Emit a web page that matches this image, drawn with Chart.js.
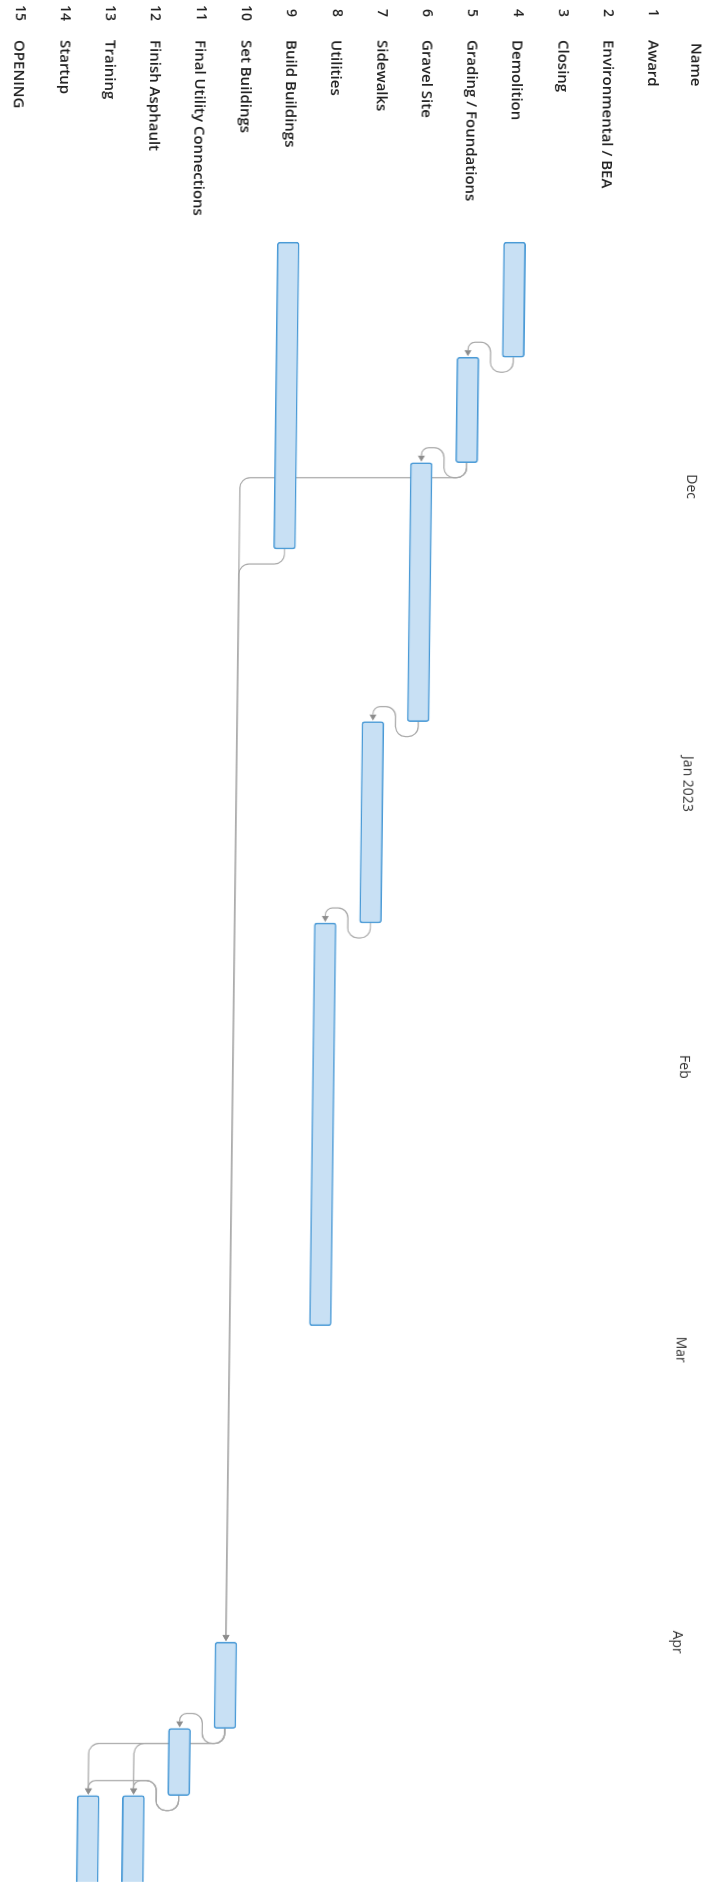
<!DOCTYPE html>
<html>
<head>
<meta charset="utf-8">
<title>Project schedule</title>
<script src="https://cdn.jsdelivr.net/npm/chart.js@4.4.1/dist/chart.umd.min.js"></script>
<style>
  html, body { margin: 0; padding: 0; background: #fff; overflow: hidden; width: 718px; height: 1882px; }
  /* the sheet was printed sideways: draw it landscape, then turn it (plus the small scanner skew) */
  #sheet { position: absolute; left: 0; top: 0; width: 1882px; height: 730px;
    transform-origin: 0 0; transform: translate(718px, 0) skewX(-0.7deg) rotate(90deg); }
</style>
</head>
<body>
<div id="sheet"><canvas id="gantt" width="1882" height="730"></canvas></div>
<script>
const taskNames = ["Award", "Environmental / BEA", "Closing", "Demolition", "Grading / Foundations",
  "Gravel Site", "Sidewalks", "Utilities", "Build Buildings", "Set Buildings",
  "Final Utility Connections", "Finish Asphault", "Training", "Startup", "OPENING"];
const taskStart = [null, null, null, "2022-11-21", "2022-12-03", "2022-12-14", "2023-01-10", "2023-01-31",
  "2022-11-21", "2023-04-16", "2023-04-25", "2023-05-02", "2023-05-02", null, null];
const taskEnd = [null, null, null, "2022-12-03", "2022-12-14", "2023-01-10", "2023-01-31", "2023-03-14",
  "2022-12-23", "2023-04-25", "2023-05-02", "2023-05-23", "2023-05-23", null, null];

// finish-to-start links, by row number
const depFrom = [4, 5, 5, 6, 7, 9, 10, 10, 10, 11, 11];
const depTo = [5, 6, 10, 7, 8, 10, 11, 12, 13, 12, 13];

const monthStarts = ["2022-12-01", "2023-01-01", "2023-02-01", "2023-03-01", "2023-04-01", "2023-05-01"];
const monthLabels = ["Dec", "Jan 2023", "Feb", "Mar", "Apr"];
const viewStart = "2022-11-19";
const viewEnd = "2023-05-11";

const day0 = Date.UTC(2022, 10, 1);
function toDay(s) {
  const [yy, mm, dd] = s.split("-").map(Number);
  return (Date.UTC(yy, mm - 1, dd) - day0) / 86400000;
}

const bars = taskStart.map((s, i) => (s ? [toDay(s), toDay(taskEnd[i])] : null));
const monthTicks = monthLabels.map((m, i) => (toDay(monthStarts[i]) + toDay(monthStarts[i + 1])) / 2);

const font = '"Open Sans", "Noto Sans", sans-serif';

const links = {
  id: "links",
  beforeDatasetsDraw(chart) {
    const { ctx, scales: { x, y } } = chart;
    const half = (y.getPixelForValue(1) - y.getPixelForValue(0)) / 2;
    ctx.save();
    ctx.strokeStyle = "#a8a8a8";
    ctx.fillStyle = "#8d8d8d";
    ctx.lineWidth = 1.2;
    depFrom.forEach((p, i) => {
      const s = depTo[i];
      const uE = x.getPixelForValue(toDay(taskEnd[p - 1]));
      const uS = x.getPixelForValue(toDay(taskStart[s - 1]));
      const vP = y.getPixelForValue(p - 1);
      const vS = y.getPixelForValue(s - 1);
      const d = 15, r = 10, tip = uS - 1, base = uS - 7;
      ctx.beginPath();
      ctx.moveTo(uE, vP);
      if (uS - uE > 2 * d) {
        ctx.arcTo(uE + d, vP, uE + d, vS, r);
        ctx.arcTo(uE + d, vS, base, vS, r);
      } else {
        const vm = vP + half * Math.sign(vS - vP);
        ctx.arcTo(uE + d, vP, uE + d, vm, r);
        ctx.arcTo(uE + d, vm, uS - d, vm, r);
        ctx.arcTo(uS - d, vm, uS - d, vS, r);
        ctx.arcTo(uS - d, vS, base, vS, 7);
      }
      ctx.lineTo(base, vS);
      ctx.stroke();
      ctx.beginPath();
      ctx.moveTo(tip, vS);
      ctx.lineTo(base, vS - 3.5);
      ctx.lineTo(base, vS + 3.5);
      ctx.closePath();
      ctx.fill();
    });
    ctx.restore();
  }
};

const gridText = {
  id: "gridText",
  afterDraw(chart) {
    const { ctx, scales: { y } } = chart;
    ctx.save();
    ctx.fillStyle = "#222";
    ctx.font = "600 14px " + font;
    ctx.textBaseline = "middle";
    ctx.textAlign = "center";
    taskNames.forEach((n, i) => ctx.fillText(String(i + 1), 13, y.getPixelForValue(i)));
    ctx.textAlign = "left";
    ctx.font = "600 15px " + font;
    ctx.fillText("Name", 43, 22);
    ctx.restore();
  }
};

new Chart(document.getElementById("gantt"), {
  type: "bar",
  data: {
    labels: taskNames,
    datasets: [{
      data: bars,
      backgroundColor: "#c8e0f4",
      borderColor: "#4a9ad6",
      borderWidth: 1.6,
      borderSkipped: false,
      borderRadius: 3,
      barThickness: 22
    }]
  },
  options: {
    indexAxis: "y",
    responsive: false,
    animation: false,
    devicePixelRatio: 1,
    layout: { padding: { left: 40, right: 0, top: 0, bottom: 4 } },
    plugins: { legend: { display: false }, tooltip: { enabled: false } },
    scales: {
      x: {
        type: "linear",
        position: "top",
        min: toDay(viewStart),
        max: toDay(viewEnd),
        grid: { display: false, drawTicks: false },
        border: { display: false },
        afterFit: (sc) => { sc.height = 42; },
        afterBuildTicks: (sc) => { sc.ticks = monthTicks.map((v) => ({ value: v })); },
        ticks: {
          autoSkip: false,
          maxRotation: 0,
          padding: 13,
          color: "#333",
          font: { family: font, size: 14 },
          callback: (v) => monthLabels[monthTicks.indexOf(v)]
        }
      },
      y: {
        type: "category",
        grid: { display: false, drawTicks: false },
        border: { display: false },
        afterFit: (sc) => { sc.width = 183; },
        ticks: {
          crossAlign: "far",
          padding: 0,
          color: "#222",
          font: { family: font, size: 15, weight: "600" }
        }
      }
    }
  },
  plugins: [links, gridText]
});
</script>
</body>
</html>
